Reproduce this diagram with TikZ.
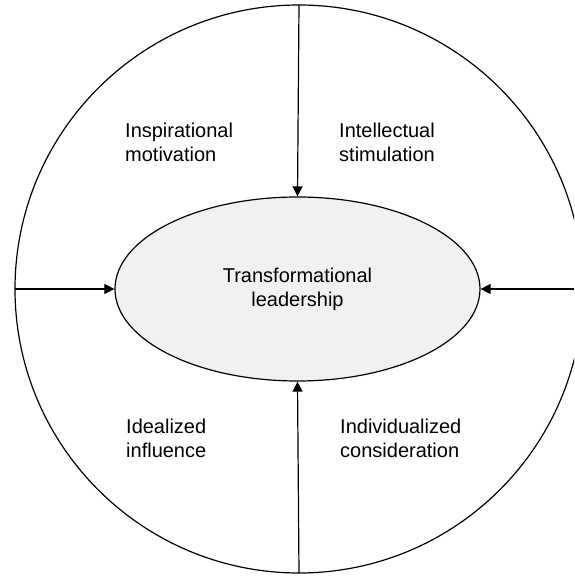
\documentclass[tikz,border=0pt]{standalone}
\usepackage{fontspec}
\setmainfont{Liberation Sans}
\usetikzlibrary{shapes.geometric,arrows.meta}

\tikzset{
core/.style = {ellipse, draw, line width=1.2pt, fill=gray!11, minimum width=365pt, minimum height=184pt, align=center},
dim/.style = {align=left, inner sep=0pt, anchor=west},
feed/.style = {line width=1.2pt, -{Triangle[length=10pt,width=10pt]}}
}

\begin{document}
\begin{tikzpicture}[x=1pt,y=1pt,font=\fontsize{20}{24}\selectfont]
\useasboundingbox (-299,-289) rectangle (275,289);
\clip (-299,-289) rectangle (275,289);

% outer circle
\draw[line width=1.2pt] (0,0) circle (284);
\foreach \a/\n in {90/t,270/b,180/l,0/r}
{
	\coordinate (\n) at (\a:284);
}

% centre
\node[core] (tl) at (-1.5,0) {Transformational\\leadership};

% the four dimensions
\node[dim] (im) at (-174,147) {Inspirational\\motivation};
\node[dim] (is) at (40,147) {Intellectual\\stimulation};
\node[dim] (ii) at (-173,-149) {Idealized\\influence};
\node[dim] (ic) at (41,-149) {Individualized\\consideration};

% arrows
\draw[feed] (t) -- (tl.north);
\draw[feed] (b) -- (tl.south);
\draw[feed] (l) -- (tl.west);
\draw[feed] (r) -- (tl.east);
\end{tikzpicture}
\end{document}
